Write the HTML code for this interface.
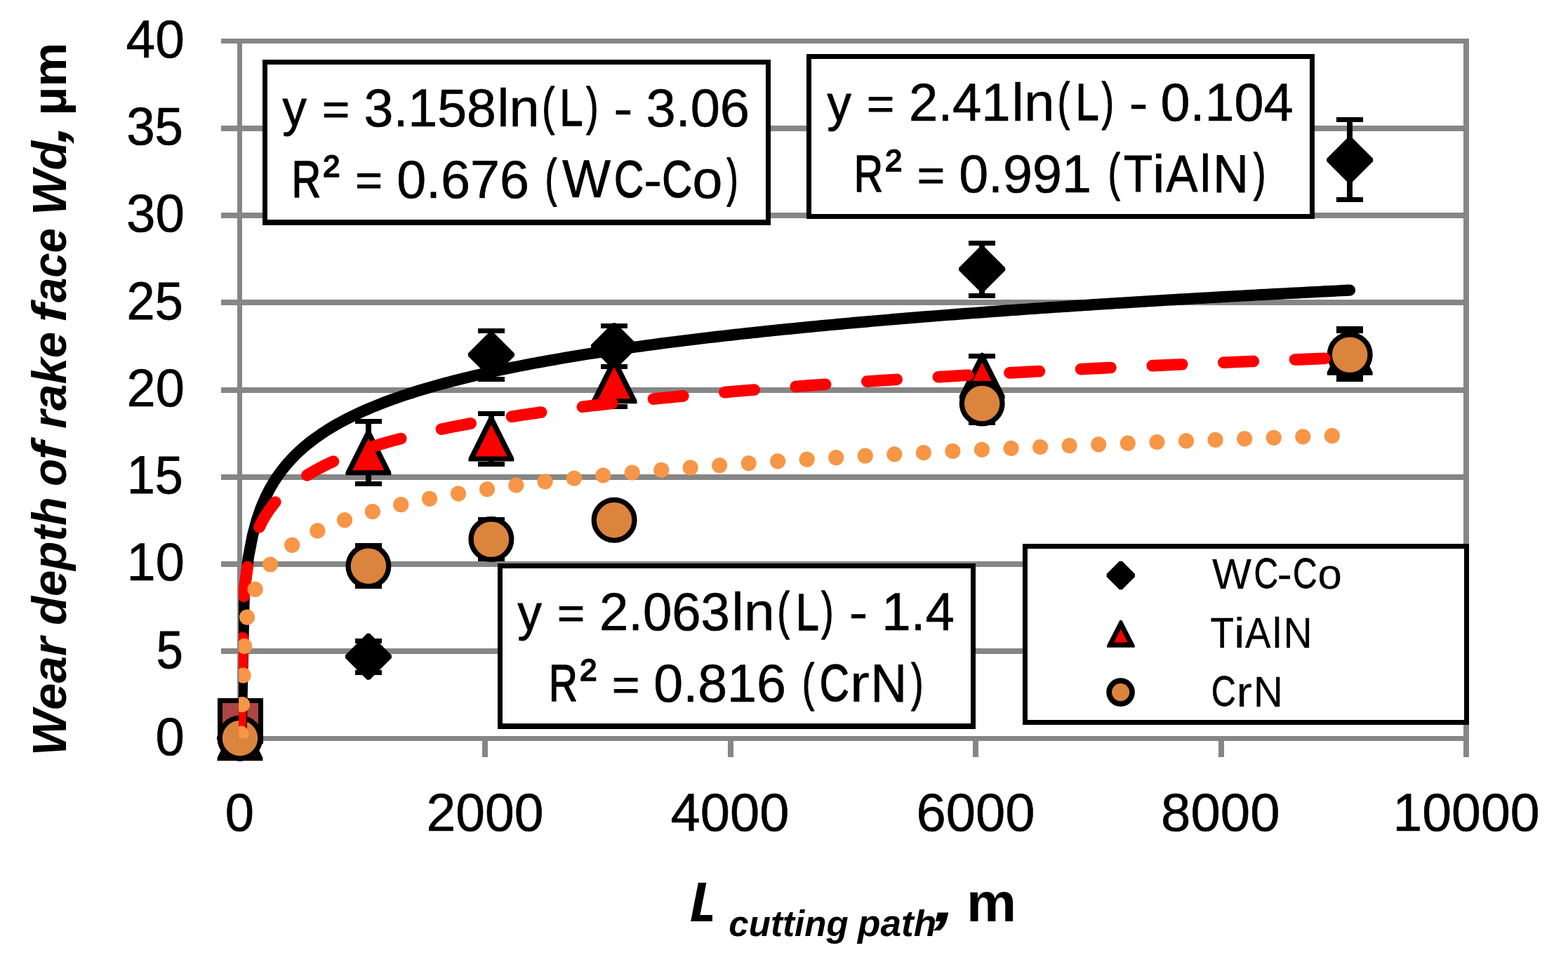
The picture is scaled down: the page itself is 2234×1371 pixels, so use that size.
<!DOCTYPE html>
<html lang="en">
<head>
<meta charset="utf-8">
<title>Wear depth of rake face Wd vs cutting path L</title>
<style>
html,body{margin:0;padding:0;background:#fff;}
body{width:2234px;height:1371px;overflow:hidden;font-family:'Liberation Sans', sans-serif;}
svg{display:block;}
text{font-kerning:none;white-space:pre;}
</style>
</head>
<body>
<svg width="2234" height="1371" viewBox="0 0 2234 1371" role="img" aria-label="Wear depth of rake face versus cutting path length">
<rect width="2234" height="1371" fill="#fff"/>
<g id="grid" fill="#868686" shape-rendering="crispEdges">
<rect x="315" y="55" width="1778" height="7"/>
<rect x="315" y="179" width="1778" height="8"/>
<rect x="315" y="303" width="1778" height="8"/>
<rect x="315" y="427" width="1778" height="8"/>
<rect x="315" y="552" width="1778" height="8"/>
<rect x="315" y="676" width="1778" height="8"/>
<rect x="315" y="800" width="1778" height="8"/>
<rect x="315" y="924" width="1778" height="8"/>
<rect x="315" y="1049" width="1778" height="7"/>
<rect x="338" y="55" width="7" height="1024"/>
<rect x="2085" y="55" width="8" height="1024"/>
<rect x="687" y="1052" width="8" height="27"/>
<rect x="1037" y="1052" width="8" height="27"/>
<rect x="1386" y="1052" width="8" height="27"/>
<rect x="1736" y="1052" width="8" height="27"/>
</g>
<g id="boxes" shape-rendering="crispEdges">
<rect x="374" y="85" width="724" height="236" fill="#000"/><rect x="381" y="92" width="710" height="221" fill="#fff"/>
<rect x="1149" y="77" width="724" height="235" fill="#000"/><rect x="1156" y="84" width="710" height="221" fill="#fff"/>
<rect x="709" y="803" width="681" height="236" fill="#000"/><rect x="716" y="810" width="667" height="221" fill="#fff"/>
<rect x="1457" y="775" width="636" height="258" fill="#000"/><rect x="1464" y="782" width="622" height="244" fill="#fff"/>
</g>
<g id="series">
<path d="M340.0 1019.0L344.0 1019.0L375.0 1050.0L375.0 1054.0L344.0 1085.0L340.0 1085.0L309.0 1054.0L309.0 1050.0Z" fill="#000"/>
<g stroke="#000" fill="none" shape-rendering="crispEdges"><path d="M505.9 913.6H543.9M505.9 958.0H543.9" stroke-width="7.0"/><path d="M524.9 913.6V958.0" stroke-width="8.0"/></g>
<path d="M522.9 902.8L526.9 902.8L557.9 933.8L557.9 937.8L526.9 968.8L522.9 968.8L491.9 937.8L491.9 933.8Z" fill="#000"/>
<g stroke="#000" fill="none" shape-rendering="crispEdges"><path d="M680.9 471.5H718.9M680.9 540.4H718.9" stroke-width="7.0"/><path d="M699.9 471.5V540.4" stroke-width="8.0"/></g>
<path d="M697.9 472.6L701.9 472.6L732.9 503.6L732.9 507.6L701.9 538.6L697.9 538.6L666.9 507.6L666.9 503.6Z" fill="#000"/>
<g stroke="#000" fill="none" shape-rendering="crispEdges"><path d="M856.1 464.6H894.1M856.1 522.5H894.1" stroke-width="7.0"/><path d="M875.1 464.6V522.5" stroke-width="8.0"/></g>
<path d="M873.1 460.3L877.1 460.3L908.1 491.3L908.1 495.3L877.1 526.3L873.1 526.3L842.1 495.3L842.1 491.3Z" fill="#000"/>
<g stroke="#000" fill="none" shape-rendering="crispEdges"><path d="M1380.2 346.6H1418.2M1380.2 421.8H1418.2" stroke-width="7.0"/><path d="M1399.2 346.6V421.8" stroke-width="8.0"/></g>
<path d="M1397.2 350.4L1401.2 350.4L1432.2 381.4L1432.2 385.4L1401.2 416.4L1397.2 416.4L1366.2 385.4L1366.2 381.4Z" fill="#000"/>
<g stroke="#000" fill="none" shape-rendering="crispEdges"><path d="M1904.2 170.4H1942.2M1904.2 284.2H1942.2" stroke-width="7.0"/><path d="M1923.2 170.4V284.2" stroke-width="8.0"/></g>
<path d="M1921.2 195.0L1925.2 195.0L1956.2 226.0L1956.2 230.0L1925.2 261.0L1921.2 261.0L1890.2 230.0L1890.2 226.0Z" fill="#000"/>
<rect x="313.4" y="998.7" width="58.0" height="58.0" fill="#AA4643" stroke="#000" stroke-width="7.0" shape-rendering="crispEdges"/>
<path d="M340.2 1018.4L343.8 1018.4L374.4 1079.7L374.4 1084.2L309.6 1084.2L309.6 1079.7Z" fill="#000"/><path d="M342.0 1031.9L364.7 1077.2L319.3 1077.2Z" fill="#f00"/>
<g stroke="#000" fill="none" shape-rendering="crispEdges"><path d="M505.9 600.7H543.9M505.9 689.5H543.9" stroke-width="7.0"/><path d="M524.9 600.7V689.5" stroke-width="8.0"/></g>
<path d="M523.1 611.4L526.6 611.4L557.3 672.7L557.3 677.2L492.5 677.2L492.5 672.7Z" fill="#000"/><path d="M524.9 624.9L547.6 670.2L502.2 670.2Z" fill="#f00"/>
<g stroke="#000" fill="none" shape-rendering="crispEdges"><path d="M680.9 589.0H718.9M680.9 661.4H718.9" stroke-width="7.0"/><path d="M699.9 589.0V661.4" stroke-width="8.0"/></g>
<path d="M698.1 591.6L701.6 591.6L732.3 652.9L732.3 657.4L667.5 657.4L667.5 652.9Z" fill="#000"/><path d="M699.9 605.1L722.6 650.4L677.2 650.4Z" fill="#f00"/>
<g stroke="#000" fill="none" shape-rendering="crispEdges"><path d="M856.1 506.8H894.1M856.1 579.5H894.1" stroke-width="7.0"/><path d="M875.1 506.8V579.5" stroke-width="8.0"/></g>
<path d="M873.4 509.4L876.9 509.4L907.5 570.7L907.5 575.2L842.7 575.2L842.7 570.7Z" fill="#000"/><path d="M875.1 522.9L897.8 568.2L852.4 568.2Z" fill="#f00"/>
<g stroke="#000" fill="none" shape-rendering="crispEdges"><path d="M1380.2 507.6H1418.2M1380.2 564.0H1418.2" stroke-width="7.0"/><path d="M1399.2 507.6V564.0" stroke-width="8.0"/></g>
<path d="M1397.5 502.8L1401.0 502.8L1431.6 564.1L1431.6 568.6L1366.8 568.6L1366.8 564.1Z" fill="#000"/><path d="M1399.2 516.3L1421.9 561.6L1376.5 561.6Z" fill="#f00"/>
<g stroke="#000" fill="none" shape-rendering="crispEdges"><path d="M1904.2 468.6H1942.2M1904.2 536.6H1942.2" stroke-width="7.0"/><path d="M1923.2 468.6V536.6" stroke-width="8.0"/></g>
<path d="M1921.5 469.0L1925.0 469.0L1955.6 530.3L1955.6 534.8L1890.8 534.8L1890.8 530.3Z" fill="#000"/><path d="M1923.2 482.5L1945.9 527.8L1900.5 527.8Z" fill="#f00"/>
<circle cx="342.0" cy="1052.0" r="28.85" fill="#DB843D" stroke="#000" stroke-width="7.3"/>
<g stroke="#000" fill="none" shape-rendering="crispEdges"><path d="M505.9 777.6H543.9M505.9 835.4H543.9" stroke-width="7.0"/><path d="M524.9 777.6V835.4" stroke-width="8.0"/></g>
<circle cx="524.9" cy="806.7" r="28.85" fill="#DB843D" stroke="#000" stroke-width="7.3"/>
<g stroke="#000" fill="none" shape-rendering="crispEdges"><path d="M680.9 740.4H718.9M680.9 796.8H718.9" stroke-width="7.0"/><path d="M699.9 740.4V796.8" stroke-width="8.0"/></g>
<circle cx="699.9" cy="768.6" r="28.85" fill="#DB843D" stroke="#000" stroke-width="7.3"/>
<circle cx="875.1" cy="741.2" r="28.85" fill="#DB843D" stroke="#000" stroke-width="7.3"/>
<g stroke="#000" fill="none" shape-rendering="crispEdges"><path d="M1380.2 546.8H1418.2M1380.2 602.4H1418.2" stroke-width="7.0"/><path d="M1399.2 546.8V602.4" stroke-width="8.0"/></g>
<circle cx="1399.2" cy="575.0" r="28.85" fill="#DB843D" stroke="#000" stroke-width="7.3"/>
<g stroke="#000" fill="none" shape-rendering="crispEdges"><path d="M1904.2 471.4H1942.2M1904.2 540.3H1942.2" stroke-width="7.0"/><path d="M1923.2 471.4V540.3" stroke-width="8.0"/></g>
<circle cx="1923.2" cy="505.6" r="28.85" fill="#DB843D" stroke="#000" stroke-width="7.3"/>
</g>
<clipPath id="plot"><rect x="340.1" y="55" width="1752.5" height="997.0"/></clipPath>
<g id="trend" clip-path="url(#plot)" fill="none" stroke-linejoin="round" stroke-linecap="round">
<path d="M341.67 1128.54L347.76 847.75L353.84 794.46L359.92 763.01L366.00 740.62L372.08 723.22L378.17 708.99L384.25 696.94L390.33 686.50L396.41 677.29L402.49 669.05L408.58 661.59L414.66 654.78L420.74 648.51L426.82 642.71L432.90 637.30L438.99 632.25L445.07 627.50L451.15 623.02L457.23 618.78L463.31 614.76L469.40 610.94L475.48 607.30L481.56 603.81L487.64 600.48L493.72 597.28L499.81 594.20L505.89 591.24L511.97 588.39L518.05 585.64L524.13 582.98L530.22 580.41L536.30 577.92L542.38 575.51L548.46 573.17L554.54 570.90L560.63 568.69L566.71 566.54L572.79 564.45L578.87 562.41L584.95 560.43L591.04 558.49L597.12 556.60L603.20 554.75L609.28 552.95L615.36 551.19L621.45 549.46L627.53 547.78L633.61 546.13L639.69 544.51L645.77 542.93L651.86 541.37L657.94 539.85L664.02 538.36L670.10 536.89L676.18 535.45L682.27 534.04L688.35 532.65L694.43 531.28L700.51 529.94L706.59 528.62L712.68 527.33L718.76 526.05L724.84 524.80L730.92 523.56L737.00 522.35L743.08 521.15L749.17 519.97L755.25 518.81L761.33 517.66L767.41 516.53L773.49 515.42L779.58 514.32L785.66 513.24L791.74 512.17L797.82 511.12L803.90 510.08L809.99 509.06L816.07 508.04L822.15 507.04L828.23 506.06L834.31 505.08L840.40 504.12L846.48 503.17L852.56 502.23L858.64 501.30L864.72 500.38L870.81 499.48L876.89 498.58L882.97 497.69L889.05 496.82L895.13 495.95L901.22 495.09L907.30 494.25L913.38 493.41L919.46 492.58L925.54 491.75L931.63 490.94L937.71 490.14L943.79 489.34L949.87 488.55L955.95 487.77L962.04 487.00L968.12 486.23L974.20 485.48L980.28 484.72L986.36 483.98L992.45 483.24L998.53 482.51L1004.61 481.79L1010.69 481.07L1016.77 480.36L1022.86 479.66L1028.94 478.96L1035.02 478.27L1041.10 477.59L1047.18 476.91L1053.27 476.23L1059.35 475.57L1065.43 474.90L1071.51 474.25L1077.59 473.60L1083.68 472.95L1089.76 472.31L1095.84 471.68L1101.92 471.05L1108.00 470.42L1114.09 469.80L1120.17 469.18L1126.25 468.57L1132.33 467.97L1138.41 467.37L1144.50 466.77L1150.58 466.18L1156.66 465.59L1162.74 465.01L1168.82 464.43L1174.90 463.85L1180.99 463.28L1187.07 462.72L1193.15 462.15L1199.23 461.60L1205.31 461.04L1211.40 460.49L1217.48 459.94L1223.56 459.40L1229.64 458.86L1235.72 458.33L1241.81 457.79L1247.89 457.27L1253.97 456.74L1260.05 456.22L1266.13 455.70L1272.22 455.19L1278.30 454.68L1284.38 454.17L1290.46 453.66L1296.54 453.16L1302.63 452.66L1308.71 452.17L1314.79 451.68L1320.87 451.19L1326.95 450.70L1333.04 450.22L1339.12 449.74L1345.20 449.26L1351.28 448.79L1357.36 448.32L1363.45 447.85L1369.53 447.38L1375.61 446.92L1381.69 446.46L1387.77 446.00L1393.86 445.55L1399.94 445.09L1406.02 444.65L1412.10 444.20L1418.18 443.75L1424.27 443.31L1430.35 442.87L1436.43 442.43L1442.51 442.00L1448.59 441.57L1454.68 441.14L1460.76 440.71L1466.84 440.29L1472.92 439.86L1479.00 439.44L1485.09 439.02L1491.17 438.61L1497.25 438.19L1503.33 437.78L1509.41 437.37L1515.50 436.96L1521.58 436.56L1527.66 436.15L1533.74 435.75L1539.82 435.35L1545.91 434.96L1551.99 434.56L1558.07 434.17L1564.15 433.78L1570.23 433.39L1576.32 433.00L1582.40 432.61L1588.48 432.23L1594.56 431.85L1600.64 431.47L1606.72 431.09L1612.81 430.71L1618.89 430.34L1624.97 429.97L1631.05 429.60L1637.13 429.23L1643.22 428.86L1649.30 428.49L1655.38 428.13L1661.46 427.77L1667.54 427.41L1673.63 427.05L1679.71 426.69L1685.79 426.33L1691.87 425.98L1697.95 425.63L1704.04 425.28L1710.12 424.93L1716.20 424.58L1722.28 424.23L1728.36 423.89L1734.45 423.54L1740.53 423.20L1746.61 422.86L1752.69 422.52L1758.77 422.18L1764.86 421.85L1770.94 421.51L1777.02 421.18L1783.10 420.85L1789.18 420.52L1795.27 420.19L1801.35 419.86L1807.43 419.54L1813.51 419.21L1819.59 418.89L1825.68 418.56L1831.76 418.24L1837.84 417.92L1843.92 417.61L1850.00 417.29L1856.09 416.97L1862.17 416.66L1868.25 416.35L1874.33 416.03L1880.41 415.72L1886.50 415.41L1892.58 415.10L1898.66 414.80L1904.74 414.49L1910.82 414.19L1916.91 413.88L1922.99 413.58" stroke="#000" stroke-width="16.2"/>
<path d="M341.67 1055.08L347.76 840.80L353.84 800.13L359.92 776.13L366.00 759.04L372.08 745.77L378.17 734.90L384.25 725.71L390.33 717.75L396.41 710.72L402.49 704.43L408.58 698.73L414.66 693.54L420.74 688.75L426.82 684.32L432.90 680.20L438.99 676.34L445.07 672.72L451.15 669.30L457.23 666.07L463.31 663.00L469.40 660.08L475.48 657.30L481.56 654.64L487.64 652.10L493.72 649.65L499.81 647.31L505.89 645.05L511.97 642.87L518.05 640.77L524.13 638.75L530.22 636.78L536.30 634.89L542.38 633.04L548.46 631.26L554.54 629.52L560.63 627.84L566.71 626.20L572.79 624.60L578.87 623.05L584.95 621.53L591.04 620.05L597.12 618.61L603.20 617.20L609.28 615.83L615.36 614.48L621.45 613.17L627.53 611.88L633.61 610.62L639.69 609.39L645.77 608.18L651.86 606.99L657.94 605.83L664.02 604.69L670.10 603.57L676.18 602.47L682.27 601.39L688.35 600.33L694.43 599.29L700.51 598.27L706.59 597.26L712.68 596.27L718.76 595.30L724.84 594.34L730.92 593.40L737.00 592.47L743.08 591.56L749.17 590.66L755.25 589.77L761.33 588.90L767.41 588.04L773.49 587.19L779.58 586.35L785.66 585.52L791.74 584.71L797.82 583.91L803.90 583.11L809.99 582.33L816.07 581.56L822.15 580.80L828.23 580.04L834.31 579.30L840.40 578.56L846.48 577.84L852.56 577.12L858.64 576.41L864.72 575.71L870.81 575.02L876.89 574.34L882.97 573.66L889.05 572.99L895.13 572.33L901.22 571.67L907.30 571.03L913.38 570.39L919.46 569.75L925.54 569.13L931.63 568.51L937.71 567.89L943.79 567.28L949.87 566.68L955.95 566.09L962.04 565.50L968.12 564.91L974.20 564.33L980.28 563.76L986.36 563.19L992.45 562.63L998.53 562.07L1004.61 561.52L1010.69 560.98L1016.77 560.43L1022.86 559.90L1028.94 559.37L1035.02 558.84L1041.10 558.31L1047.18 557.80L1053.27 557.28L1059.35 556.77L1065.43 556.27L1071.51 555.77L1077.59 555.27L1083.68 554.78L1089.76 554.29L1095.84 553.80L1101.92 553.32L1108.00 552.85L1114.09 552.37L1120.17 551.90L1126.25 551.44L1132.33 550.97L1138.41 550.52L1144.50 550.06L1150.58 549.61L1156.66 549.16L1162.74 548.71L1168.82 548.27L1174.90 547.83L1180.99 547.40L1187.07 546.97L1193.15 546.54L1199.23 546.11L1205.31 545.69L1211.40 545.27L1217.48 544.85L1223.56 544.44L1229.64 544.02L1235.72 543.62L1241.81 543.21L1247.89 542.81L1253.97 542.41L1260.05 542.01L1266.13 541.61L1272.22 541.22L1278.30 540.83L1284.38 540.44L1290.46 540.06L1296.54 539.67L1302.63 539.29L1308.71 538.92L1314.79 538.54L1320.87 538.17L1326.95 537.80L1333.04 537.43L1339.12 537.06L1345.20 536.70L1351.28 536.34L1357.36 535.98L1363.45 535.62L1369.53 535.26L1375.61 534.91L1381.69 534.56L1387.77 534.21L1393.86 533.86L1399.94 533.52L1406.02 533.18L1412.10 532.83L1418.18 532.49L1424.27 532.16L1430.35 531.82L1436.43 531.49L1442.51 531.16L1448.59 530.83L1454.68 530.50L1460.76 530.17L1466.84 529.85L1472.92 529.53L1479.00 529.20L1485.09 528.88L1491.17 528.57L1497.25 528.25L1503.33 527.94L1509.41 527.62L1515.50 527.31L1521.58 527.00L1527.66 526.70L1533.74 526.39L1539.82 526.08L1545.91 525.78L1551.99 525.48L1558.07 525.18L1564.15 524.88L1570.23 524.58L1576.32 524.29L1582.40 523.99L1588.48 523.70L1594.56 523.41L1600.64 523.12L1606.72 522.83L1612.81 522.54L1618.89 522.26L1624.97 521.97L1631.05 521.69L1637.13 521.41L1643.22 521.13L1649.30 520.85L1655.38 520.57L1661.46 520.29L1667.54 520.02L1673.63 519.75L1679.71 519.47L1685.79 519.20L1691.87 518.93L1697.95 518.66L1704.04 518.39L1710.12 518.13L1716.20 517.86L1722.28 517.60L1728.36 517.33L1734.45 517.07L1740.53 516.81L1746.61 516.55L1752.69 516.29L1758.77 516.03L1764.86 515.78L1770.94 515.52L1777.02 515.27L1783.10 515.02L1789.18 514.76L1795.27 514.51L1801.35 514.26L1807.43 514.01L1813.51 513.77L1819.59 513.52L1825.68 513.27L1831.76 513.03L1837.84 512.78L1843.92 512.54L1850.00 512.30L1856.09 512.06L1862.17 511.82L1868.25 511.58L1874.33 511.34L1880.41 511.10L1886.50 510.87L1892.58 510.63L1898.66 510.40L1904.74 510.16L1910.82 509.93L1916.91 509.70L1922.99 509.47" stroke="#f00" stroke-width="16.67" stroke-dasharray="42.5 59.26" stroke-dashoffset="-1.7"/>
<path d="M341.67 1087.29L349.58 890.74L357.49 855.76L365.39 835.16L373.30 820.51L381.21 809.13L389.11 799.82L397.02 791.94L404.93 785.12L412.83 779.09L420.74 773.70L428.65 768.83L436.55 764.38L444.46 760.28L452.37 756.49L460.27 752.96L468.18 749.65L476.09 746.55L483.99 743.62L491.90 740.85L499.81 738.23L507.71 735.73L515.62 733.35L523.53 731.07L531.43 728.89L539.34 726.80L547.25 724.79L555.15 722.86L563.06 720.99L570.97 719.20L578.87 717.46L586.78 715.78L594.68 714.15L602.59 712.58L610.50 711.05L618.40 709.56L626.31 708.12L634.22 706.71L642.12 705.35L650.03 704.02L657.94 702.72L665.84 701.46L673.75 700.22L681.66 699.01L689.56 697.84L697.47 696.69L705.38 695.56L713.28 694.46L721.19 693.38L729.10 692.32L737.00 691.29L744.91 690.27L752.82 689.28L760.72 688.30L768.63 687.34L776.54 686.40L784.44 685.48L792.35 684.57L800.26 683.68L808.16 682.80L816.07 681.94L823.98 681.10L831.88 680.26L839.79 679.44L847.69 678.64L855.60 677.84L863.51 677.06L871.41 676.29L879.32 675.53L887.23 674.78L895.13 674.04L903.04 673.32L910.95 672.60L918.85 671.89L926.76 671.20L934.67 670.51L942.57 669.83L950.48 669.16L958.39 668.50L966.29 667.84L974.20 667.20L982.11 666.56L990.01 665.93L997.92 665.31L1005.83 664.70L1013.73 664.09L1021.64 663.49L1029.55 662.90L1037.45 662.31L1045.36 661.74L1053.27 661.16L1061.17 660.60L1069.08 660.04L1076.99 659.48L1084.89 658.93L1092.80 658.39L1100.70 657.86L1108.61 657.32L1116.52 656.80L1124.42 656.28L1132.33 655.76L1140.24 655.25L1148.14 654.75L1156.05 654.25L1163.96 653.75L1171.86 653.26L1179.77 652.78L1187.68 652.30L1195.58 651.82L1203.49 651.35L1211.40 650.88L1219.30 650.41L1227.21 649.95L1235.12 649.50L1243.02 649.05L1250.93 648.60L1258.84 648.16L1266.74 647.72L1274.65 647.28L1282.56 646.85L1290.46 646.42L1298.37 645.99L1306.28 645.57L1314.18 645.15L1322.09 644.74L1330.00 644.33L1337.90 643.92L1345.81 643.51L1353.71 643.11L1361.62 642.71L1369.53 642.32L1377.43 641.92L1385.34 641.53L1393.25 641.15L1401.15 640.76L1409.06 640.38L1416.97 640.00L1424.87 639.63L1432.78 639.25L1440.69 638.88L1448.59 638.52L1456.50 638.15L1464.41 637.79L1472.31 637.43L1480.22 637.07L1488.13 636.72L1496.03 636.37L1503.94 636.02L1511.85 635.67L1519.75 635.32L1527.66 634.98L1535.57 634.64L1543.47 634.30L1551.38 633.97L1559.29 633.63L1567.19 633.30L1575.10 632.97L1583.01 632.64L1590.91 632.32L1598.82 631.99L1606.72 631.67L1614.63 631.35L1622.54 631.04L1630.44 630.72L1638.35 630.41L1646.26 630.10L1654.16 629.79L1662.07 629.48L1669.98 629.17L1677.88 628.87L1685.79 628.56L1693.70 628.26L1701.60 627.97L1709.51 627.67L1717.42 627.37L1725.32 627.08L1733.23 626.79L1741.14 626.50L1749.04 626.21L1756.95 625.92L1764.86 625.63L1772.76 625.35L1780.67 625.07L1788.58 624.79L1796.48 624.51L1804.39 624.23L1812.30 623.95L1820.20 623.68L1828.11 623.41L1836.02 623.13L1843.92 622.86L1851.83 622.59L1859.73 622.33L1867.64 622.06L1875.55 621.80L1883.45 621.53L1891.36 621.27L1899.27 621.01L1907.17 620.75L1915.08 620.49L1922.99 620.23" stroke="#F79646" stroke-width="22.2" stroke-dasharray="0.01 41.6"/>
</g>
<g id="legend-markers">
<path d="M1594.8 799.8L1598.8 799.8L1617.0 818.0L1617.0 822.0L1598.8 840.2L1594.8 840.2L1576.6 822.0L1576.6 818.0Z" fill="#000"/>
<path d="M1595.4 883.9L1598.4 883.9L1616.7 919.7L1616.7 922.7L1577.1 922.7L1577.1 919.7Z" fill="#000"/><path d="M1596.9 896.8L1606.7 915.6L1587.1 915.6Z" fill="#f00"/>
<circle cx="1596.6" cy="986.6" r="16.45" fill="#DB843D" stroke="#000" stroke-width="7.7"/>
</g>
<g id="ylabels">
<text transform="matrix(0.7493 0 0 0.7553 179.56 81.93)" style="font-size:100px;font-family:'Liberation Sans', sans-serif;stroke:#000;stroke-width:0.83px;stroke-linejoin:round;" xml:space="preserve">40 </text>
<text transform="matrix(0.7261 0 0 0.7537 180.15 206.12)" style="font-size:100px;font-family:'Liberation Sans', sans-serif;stroke:#000;stroke-width:0.98px;stroke-linejoin:round;" xml:space="preserve">35 </text>
<text transform="matrix(0.7448 0 0 0.7550 180.04 330.42)" style="font-size:100px;font-family:'Liberation Sans', sans-serif;stroke:#000;stroke-width:0.86px;stroke-linejoin:round;" xml:space="preserve">30 </text>
<text transform="matrix(0.7218 0 0 0.7534 180.60 454.61)" style="font-size:100px;font-family:'Liberation Sans', sans-serif;stroke:#000;stroke-width:1.01px;stroke-linejoin:round;" xml:space="preserve">25 </text>
<text transform="matrix(0.7407 0 0 0.7547 180.47 578.91)" style="font-size:100px;font-family:'Liberation Sans', sans-serif;stroke:#000;stroke-width:0.88px;stroke-linejoin:round;" xml:space="preserve">20 </text>
<text transform="matrix(0.7210 0 0 0.7534 180.69 703.11)" style="font-size:100px;font-family:'Liberation Sans', sans-serif;stroke:#000;stroke-width:1.01px;stroke-linejoin:round;" xml:space="preserve">15 </text>
<text transform="matrix(0.7404 0 0 0.7547 180.50 827.41)" style="font-size:100px;font-family:'Liberation Sans', sans-serif;stroke:#000;stroke-width:0.89px;stroke-linejoin:round;" xml:space="preserve">10 </text>
<text transform="matrix(0.6830 0 0 0.7506 222.70 951.51)" style="font-size:100px;font-family:'Liberation Sans', sans-serif;stroke:#000;stroke-width:1.28px;stroke-linejoin:round;" xml:space="preserve">5 </text>
<text transform="matrix(0.7439 0 0 0.7549 221.55 1075.91)" style="font-size:100px;font-family:'Liberation Sans', sans-serif;stroke:#000;stroke-width:0.86px;stroke-linejoin:round;" xml:space="preserve">0 </text>
</g><g id="xlabels">
<text transform="matrix(0.7416 0 0 0.7548 320.76 1184.41)" style="font-size:100px;font-family:'Liberation Sans', sans-serif;stroke:#000;stroke-width:0.88px;stroke-linejoin:round;" xml:space="preserve">0 </text>
<text transform="matrix(0.7506 0 0 0.7554 607.56 1184.43)" style="font-size:100px;font-family:'Liberation Sans', sans-serif;stroke:#000;stroke-width:0.82px;stroke-linejoin:round;" xml:space="preserve">2000 </text>
<text transform="matrix(0.7595 0 0 0.7559 955.62 1184.45)" style="font-size:100px;font-family:'Liberation Sans', sans-serif;stroke:#000;stroke-width:0.77px;stroke-linejoin:round;" xml:space="preserve">4000 </text>
<text transform="matrix(0.7599 0 0 0.7559 1305.54 1184.45)" style="font-size:100px;font-family:'Liberation Sans', sans-serif;stroke:#000;stroke-width:0.77px;stroke-linejoin:round;" xml:space="preserve">6000 </text>
<text transform="matrix(0.7620 0 0 0.7561 1654.09 1184.46)" style="font-size:100px;font-family:'Liberation Sans', sans-serif;stroke:#000;stroke-width:0.75px;stroke-linejoin:round;" xml:space="preserve">8000 </text>
<text transform="matrix(0.7530 0 0 0.7555 1984.38 1184.43)" style="font-size:100px;font-family:'Liberation Sans', sans-serif;stroke:#000;stroke-width:0.81px;stroke-linejoin:round;" xml:space="preserve">10000 </text>
</g>
<g id="eq1">
<g><text transform="matrix(0.6859 0 0 0.7261 402.50 179.34)" style="font-size:100px;font-family:'Liberation Sans', sans-serif;stroke:#000;stroke-width:1.26px;stroke-linejoin:round;" xml:space="preserve">y </text><text transform="matrix(0.6709 0 0 0.6277 458.88 177.66)" style="font-size:100px;font-family:'Liberation Sans', sans-serif;stroke:#000;stroke-width:1.60px;stroke-linejoin:round;" xml:space="preserve">= </text><text transform="matrix(0.7529 0 0 0.7555 518.59 179.73)" style="font-size:100px;font-family:'Liberation Sans', sans-serif;stroke:#000;stroke-width:0.81px;stroke-linejoin:round;" xml:space="preserve">3.158</text><text transform="matrix(0.7759 0 0 0.7569 708.29 179.79)" style="font-size:100px;font-family:'Liberation Sans', sans-serif;stroke:#000;stroke-width:0.67px;stroke-linejoin:round;" xml:space="preserve">ln</text><text transform="matrix(0.5406 0 0 0.7492 772.21 177.48)" style="font-size:100px;font-family:'Liberation Sans', sans-serif;stroke:#000;stroke-width:1.97px;stroke-linejoin:round;" xml:space="preserve">(</text><text transform="matrix(0.5979 0 0 0.7432 797.31 179.29)" style="font-size:100px;font-family:'Liberation Sans', sans-serif;stroke:#000;stroke-width:1.99px;stroke-linejoin:round;" xml:space="preserve">L</text><text transform="matrix(0.5141 0 0 0.7469 835.24 177.42)" style="font-size:100px;font-family:'Liberation Sans', sans-serif;stroke:#000;stroke-width:2.26px;stroke-linejoin:round;" xml:space="preserve">) </text><text transform="matrix(0.8193 0 0 0.7209 874.30 178.82)" style="font-size:100px;font-family:'Liberation Sans', sans-serif;stroke:#000;stroke-width:0.60px;stroke-linejoin:round;" xml:space="preserve">- </text><text transform="matrix(0.7584 0 0 0.7559 920.46 179.75)" style="font-size:100px;font-family:'Liberation Sans', sans-serif;stroke:#000;stroke-width:0.78px;stroke-linejoin:round;" xml:space="preserve">3.06</text></g>
<g><text transform="matrix(0.5786 0 0 0.7412 415.41 281.02)" style="font-size:100px;font-family:'Liberation Sans', sans-serif;stroke:#000;stroke-width:2.19px;stroke-linejoin:round;" xml:space="preserve">R</text><text transform="matrix(0.7021 0 0 0.7273 460.40 272.05)" style="font-size:100px;font-family:'Liberation Sans', sans-serif;stroke:#000;stroke-width:2.00px;stroke-linejoin:round;" xml:space="preserve">² </text><text transform="matrix(0.6609 0 0 0.6277 506.32 279.46)" style="font-size:100px;font-family:'Liberation Sans', sans-serif;stroke:#000;stroke-width:1.60px;stroke-linejoin:round;" xml:space="preserve">= </text><text transform="matrix(0.7541 0 0 0.7556 565.19 281.54)" style="font-size:100px;font-family:'Liberation Sans', sans-serif;stroke:#000;stroke-width:0.80px;stroke-linejoin:round;" xml:space="preserve">0.676 </text><text transform="matrix(0.4963 0 0 0.7452 776.67 279.18)" style="font-size:100px;font-family:'Liberation Sans', sans-serif;stroke:#000;stroke-width:2.48px;stroke-linejoin:round;" xml:space="preserve">(</text><text transform="matrix(0.7319 0 0 0.7541 800.96 281.48)" style="font-size:100px;font-family:'Liberation Sans', sans-serif;stroke:#000;stroke-width:0.94px;stroke-linejoin:round;" xml:space="preserve">W</text><text transform="matrix(0.5835 0 0 0.7417 874.91 281.04)" style="font-size:100px;font-family:'Liberation Sans', sans-serif;stroke:#000;stroke-width:2.14px;stroke-linejoin:round;" xml:space="preserve">C</text><text transform="matrix(0.7916 0 0 0.7209 916.91 280.62)" style="font-size:100px;font-family:'Liberation Sans', sans-serif;stroke:#000;stroke-width:0.60px;stroke-linejoin:round;" xml:space="preserve">-</text><text transform="matrix(0.5936 0 0 0.7428 943.24 281.08)" style="font-size:100px;font-family:'Liberation Sans', sans-serif;stroke:#000;stroke-width:2.04px;stroke-linejoin:round;" xml:space="preserve">C</text><text transform="matrix(0.7715 0 0 0.7567 986.43 281.58)" style="font-size:100px;font-family:'Liberation Sans', sans-serif;stroke:#000;stroke-width:0.70px;stroke-linejoin:round;" xml:space="preserve">o</text><text transform="matrix(0.4653 0 0 0.7420 1035.86 279.09)" style="font-size:100px;font-family:'Liberation Sans', sans-serif;stroke:#000;stroke-width:2.89px;stroke-linejoin:round;" xml:space="preserve">)</text></g>
</g><g id="eq2">
<g><text transform="matrix(0.6859 0 0 0.7261 1178.60 171.54)" style="font-size:100px;font-family:'Liberation Sans', sans-serif;stroke:#000;stroke-width:1.26px;stroke-linejoin:round;" xml:space="preserve">y </text><text transform="matrix(0.6709 0 0 0.6277 1234.98 169.86)" style="font-size:100px;font-family:'Liberation Sans', sans-serif;stroke:#000;stroke-width:1.60px;stroke-linejoin:round;" xml:space="preserve">= </text><text transform="matrix(0.7427 0 0 0.7548 1295.11 171.91)" style="font-size:100px;font-family:'Liberation Sans', sans-serif;stroke:#000;stroke-width:0.87px;stroke-linejoin:round;" xml:space="preserve">2.41</text><text transform="matrix(0.7809 0 0 0.7572 1441.55 172.00)" style="font-size:100px;font-family:'Liberation Sans', sans-serif;stroke:#000;stroke-width:0.65px;stroke-linejoin:round;" xml:space="preserve">ln</text><text transform="matrix(0.5229 0 0 0.7477 1506.65 169.64)" style="font-size:100px;font-family:'Liberation Sans', sans-serif;stroke:#000;stroke-width:2.16px;stroke-linejoin:round;" xml:space="preserve">(</text><text transform="matrix(0.5979 0 0 0.7432 1532.41 171.49)" style="font-size:100px;font-family:'Liberation Sans', sans-serif;stroke:#000;stroke-width:1.99px;stroke-linejoin:round;" xml:space="preserve">L</text><text transform="matrix(0.5141 0 0 0.7469 1569.64 169.62)" style="font-size:100px;font-family:'Liberation Sans', sans-serif;stroke:#000;stroke-width:2.26px;stroke-linejoin:round;" xml:space="preserve">) </text><text transform="matrix(0.8153 0 0 0.7209 1608.41 171.02)" style="font-size:100px;font-family:'Liberation Sans', sans-serif;stroke:#000;stroke-width:0.60px;stroke-linejoin:round;" xml:space="preserve">- </text><text transform="matrix(0.7553 0 0 0.7557 1653.48 171.94)" style="font-size:100px;font-family:'Liberation Sans', sans-serif;stroke:#000;stroke-width:0.79px;stroke-linejoin:round;" xml:space="preserve">0.104</text></g>
<g><text transform="matrix(0.5731 0 0 0.7407 1216.77 273.10)" style="font-size:100px;font-family:'Liberation Sans', sans-serif;stroke:#000;stroke-width:2.24px;stroke-linejoin:round;" xml:space="preserve">R</text><text transform="matrix(0.6989 0 0 0.7273 1261.60 264.15)" style="font-size:100px;font-family:'Liberation Sans', sans-serif;stroke:#000;stroke-width:2.00px;stroke-linejoin:round;" xml:space="preserve">² </text><text transform="matrix(0.6749 0 0 0.6277 1306.87 271.56)" style="font-size:100px;font-family:'Liberation Sans', sans-serif;stroke:#000;stroke-width:1.60px;stroke-linejoin:round;" xml:space="preserve">= </text><text transform="matrix(0.7541 0 0 0.7556 1366.19 273.64)" style="font-size:100px;font-family:'Liberation Sans', sans-serif;stroke:#000;stroke-width:0.80px;stroke-linejoin:round;" xml:space="preserve">0.991 </text><text transform="matrix(0.5141 0 0 0.7469 1578.63 271.32)" style="font-size:100px;font-family:'Liberation Sans', sans-serif;stroke:#000;stroke-width:2.26px;stroke-linejoin:round;" xml:space="preserve">(</text><text transform="matrix(0.6726 0 0 0.7498 1600.99 273.43)" style="font-size:100px;font-family:'Liberation Sans', sans-serif;stroke:#000;stroke-width:1.35px;stroke-linejoin:round;" xml:space="preserve">T</text><text transform="matrix(0.8071 0 0 0.7588 1641.72 273.75)" style="font-size:100px;font-family:'Liberation Sans', sans-serif;stroke:#000;stroke-width:0.50px;stroke-linejoin:round;" xml:space="preserve">i</text><text transform="matrix(0.6726 0 0 0.7498 1661.53 273.43)" style="font-size:100px;font-family:'Liberation Sans', sans-serif;stroke:#000;stroke-width:1.35px;stroke-linejoin:round;" xml:space="preserve">A</text><text transform="matrix(0.6607 0 0 0.7488 1710.07 273.40)" style="font-size:100px;font-family:'Liberation Sans', sans-serif;stroke:#000;stroke-width:1.44px;stroke-linejoin:round;" xml:space="preserve">l</text><text transform="matrix(0.7005 0 0 0.7519 1728.37 273.51)" style="font-size:100px;font-family:'Liberation Sans', sans-serif;stroke:#000;stroke-width:1.15px;stroke-linejoin:round;" xml:space="preserve">N</text><text transform="matrix(0.5229 0 0 0.7477 1786.12 271.34)" style="font-size:100px;font-family:'Liberation Sans', sans-serif;stroke:#000;stroke-width:2.16px;stroke-linejoin:round;" xml:space="preserve">)</text></g>
</g><g id="eq3">
<g><text transform="matrix(0.6859 0 0 0.7261 737.60 897.64)" style="font-size:100px;font-family:'Liberation Sans', sans-serif;stroke:#000;stroke-width:1.26px;stroke-linejoin:round;" xml:space="preserve">y </text><text transform="matrix(0.6709 0 0 0.6277 793.98 895.96)" style="font-size:100px;font-family:'Liberation Sans', sans-serif;stroke:#000;stroke-width:1.60px;stroke-linejoin:round;" xml:space="preserve">= </text><text transform="matrix(0.7430 0 0 0.7549 854.01 898.01)" style="font-size:100px;font-family:'Liberation Sans', sans-serif;stroke:#000;stroke-width:0.87px;stroke-linejoin:round;" xml:space="preserve">2.063</text><text transform="matrix(0.7924 0 0 0.7579 1042.25 898.12)" style="font-size:100px;font-family:'Liberation Sans', sans-serif;stroke:#000;stroke-width:0.58px;stroke-linejoin:round;" xml:space="preserve">ln</text><text transform="matrix(0.5229 0 0 0.7477 1107.45 895.74)" style="font-size:100px;font-family:'Liberation Sans', sans-serif;stroke:#000;stroke-width:2.16px;stroke-linejoin:round;" xml:space="preserve">(</text><text transform="matrix(0.5905 0 0 0.7424 1133.89 897.57)" style="font-size:100px;font-family:'Liberation Sans', sans-serif;stroke:#000;stroke-width:2.07px;stroke-linejoin:round;" xml:space="preserve">L</text><text transform="matrix(0.5141 0 0 0.7469 1170.34 895.72)" style="font-size:100px;font-family:'Liberation Sans', sans-serif;stroke:#000;stroke-width:2.26px;stroke-linejoin:round;" xml:space="preserve">) </text><text transform="matrix(0.8113 0 0 0.7209 1209.43 897.12)" style="font-size:100px;font-family:'Liberation Sans', sans-serif;stroke:#000;stroke-width:0.60px;stroke-linejoin:round;" xml:space="preserve">- </text><text transform="matrix(0.7446 0 0 0.7550 1256.31 898.02)" style="font-size:100px;font-family:'Liberation Sans', sans-serif;stroke:#000;stroke-width:0.86px;stroke-linejoin:round;" xml:space="preserve">1.4</text></g>
<g><text transform="matrix(0.5659 0 0 0.7399 781.94 999.38)" style="font-size:100px;font-family:'Liberation Sans', sans-serif;stroke:#000;stroke-width:2.32px;stroke-linejoin:round;" xml:space="preserve">R</text><text transform="matrix(0.7053 0 0 0.7273 826.49 990.45)" style="font-size:100px;font-family:'Liberation Sans', sans-serif;stroke:#000;stroke-width:2.00px;stroke-linejoin:round;" xml:space="preserve">² </text><text transform="matrix(0.6749 0 0 0.6277 871.97 997.86)" style="font-size:100px;font-family:'Liberation Sans', sans-serif;stroke:#000;stroke-width:1.60px;stroke-linejoin:round;" xml:space="preserve">= </text><text transform="matrix(0.7537 0 0 0.7556 931.29 999.94)" style="font-size:100px;font-family:'Liberation Sans', sans-serif;stroke:#000;stroke-width:0.80px;stroke-linejoin:round;" xml:space="preserve">0.816 </text><text transform="matrix(0.5141 0 0 0.7469 1142.93 997.62)" style="font-size:100px;font-family:'Liberation Sans', sans-serif;stroke:#000;stroke-width:2.26px;stroke-linejoin:round;" xml:space="preserve">(</text><text transform="matrix(0.5818 0 0 0.7416 1167.82 999.44)" style="font-size:100px;font-family:'Liberation Sans', sans-serif;stroke:#000;stroke-width:2.15px;stroke-linejoin:round;" xml:space="preserve">C</text><text transform="matrix(0.8498 0 0 0.7609 1210.86 1000.13)" style="font-size:100px;font-family:'Liberation Sans', sans-serif;stroke:#000;stroke-width:0.30px;stroke-linejoin:round;" xml:space="preserve">r</text><text transform="matrix(0.7120 0 0 0.7527 1240.45 999.84)" style="font-size:100px;font-family:'Liberation Sans', sans-serif;stroke:#000;stroke-width:1.07px;stroke-linejoin:round;" xml:space="preserve">N</text><text transform="matrix(0.5141 0 0 0.7469 1298.34 997.62)" style="font-size:100px;font-family:'Liberation Sans', sans-serif;stroke:#000;stroke-width:2.26px;stroke-linejoin:round;" xml:space="preserve">)</text></g>
</g>
<g id="legend">
<g><text transform="matrix(0.5935 0 0 0.6139 1727.11 838.77)" style="font-size:100px;font-family:'Liberation Sans', sans-serif;stroke:#000;stroke-width:0.35px;stroke-linejoin:round;" xml:space="preserve">W</text><text transform="matrix(0.4794 0 0 0.6056 1786.42 838.47)" style="font-size:100px;font-family:'Liberation Sans', sans-serif;stroke:#000;stroke-width:1.33px;stroke-linejoin:round;" xml:space="preserve">C</text><text transform="matrix(0.6293 0 0 0.5912 1819.66 837.88)" style="font-size:100px;font-family:'Liberation Sans', sans-serif;stroke:#000;stroke-width:0.60px;stroke-linejoin:round;" xml:space="preserve">-</text><text transform="matrix(0.4794 0 0 0.6056 1842.02 838.47)" style="font-size:100px;font-family:'Liberation Sans', sans-serif;stroke:#000;stroke-width:1.33px;stroke-linejoin:round;" xml:space="preserve">C</text><text transform="matrix(0.6173 0 0 0.6144 1877.62 838.78)" style="font-size:100px;font-family:'Liberation Sans', sans-serif;stroke:#000;stroke-width:0.30px;stroke-linejoin:round;" xml:space="preserve">o </text></g>
<g><text transform="matrix(0.5508 0 0 0.6112 1724.40 922.87)" style="font-size:100px;font-family:'Liberation Sans', sans-serif;stroke:#000;stroke-width:0.67px;stroke-linejoin:round;" xml:space="preserve">T</text><text transform="matrix(0.7026 0 0 0.6144 1758.02 922.98)" style="font-size:100px;font-family:'Liberation Sans', sans-serif;stroke:#000;stroke-width:0.30px;stroke-linejoin:round;" xml:space="preserve">i</text><text transform="matrix(0.5456 0 0 0.6108 1773.91 922.86)" style="font-size:100px;font-family:'Liberation Sans', sans-serif;stroke:#000;stroke-width:0.71px;stroke-linejoin:round;" xml:space="preserve">A</text><text transform="matrix(0.5840 0 0 0.6134 1812.93 922.95)" style="font-size:100px;font-family:'Liberation Sans', sans-serif;stroke:#000;stroke-width:0.42px;stroke-linejoin:round;" xml:space="preserve">l</text><text transform="matrix(0.5695 0 0 0.6124 1828.50 922.91)" style="font-size:100px;font-family:'Liberation Sans', sans-serif;stroke:#000;stroke-width:0.52px;stroke-linejoin:round;" xml:space="preserve">N </text></g>
<g><text transform="matrix(0.4861 0 0 0.6062 1725.78 1006.49)" style="font-size:100px;font-family:'Liberation Sans', sans-serif;stroke:#000;stroke-width:1.26px;stroke-linejoin:round;" xml:space="preserve">C</text><text transform="matrix(0.6719 0 0 0.6144 1761.62 1006.78)" style="font-size:100px;font-family:'Liberation Sans', sans-serif;stroke:#000;stroke-width:0.30px;stroke-linejoin:round;" xml:space="preserve">r</text><text transform="matrix(0.5791 0 0 0.6130 1785.91 1006.74)" style="font-size:100px;font-family:'Liberation Sans', sans-serif;stroke:#000;stroke-width:0.45px;stroke-linejoin:round;" xml:space="preserve">N </text></g>
</g>
<g id="ytitle"><text transform="matrix(0 -0.6919 0.6900 0 94.00 1077.17)" style="font-size:100px;font-family:'Liberation Sans', sans-serif;font-weight:bold;font-style:italic;" xml:space="preserve">Wear </text><text transform="matrix(0 -0.6728 0.6900 0 94.00 891.12)" style="font-size:100px;font-family:'Liberation Sans', sans-serif;font-weight:bold;font-style:italic;" xml:space="preserve">depth </text><text transform="matrix(0 -0.6418 0.6900 0 94.00 693.03)" style="font-size:100px;font-family:'Liberation Sans', sans-serif;font-weight:bold;font-style:italic;" xml:space="preserve">o</text><text transform="matrix(0 -0.7842 0.6900 0 94.00 655.38)" style="font-size:100px;font-family:'Liberation Sans', sans-serif;font-weight:bold;font-style:italic;" xml:space="preserve">f </text><text transform="matrix(0 -0.6720 0.6900 0 94.00 611.12)" style="font-size:100px;font-family:'Liberation Sans', sans-serif;font-weight:bold;font-style:italic;" xml:space="preserve">rake </text><text transform="matrix(0 -0.7789 0.6900 0 94.00 459.36)" style="font-size:100px;font-family:'Liberation Sans', sans-serif;font-weight:bold;font-style:italic;" xml:space="preserve">f</text><text transform="matrix(0 -0.6354 0.6900 0 94.00 431.11)" style="font-size:100px;font-family:'Liberation Sans', sans-serif;font-weight:bold;font-style:italic;" xml:space="preserve">ace </text><text transform="matrix(0 -0.6829 0.6900 0 94.00 307.11)" style="font-size:100px;font-family:'Liberation Sans', sans-serif;font-weight:bold;font-style:italic;" xml:space="preserve">Wd</text><text transform="matrix(0 -0.9305 0.7272 0 93.71 204.58)" style="font-size:100px;font-family:'Liberation Sans', sans-serif;font-weight:bold;font-style:italic;" xml:space="preserve">, </text><text transform="matrix(0 -0.7115 0.6900 0 94.00 164.74)" style="font-size:100px;font-family:'Liberation Sans', sans-serif;font-weight:bold;" xml:space="preserve">µm</text></g>
<g id="xtitle"><clipPath id="lclip"><rect x="-20" y="-90" width="60.15" height="120"/></clipPath><text transform="matrix(0.8029 0 0 0.8029 982.66 1313.1)" clip-path="url(#lclip)" style="font-size:100px;font-family:'Liberation Sans', sans-serif;font-weight:bold;font-style:italic;" xml:space="preserve">L </text><text transform="matrix(0.5114 0 0 0.5132 1038.37 1334.00)" style="font-size:100px;font-family:'Liberation Sans', sans-serif;font-weight:bold;font-style:italic;" xml:space="preserve">cutting </text><text transform="matrix(0.5316 0 0 0.5132 1222.06 1334.00)" style="font-size:100px;font-family:'Liberation Sans', sans-serif;font-weight:bold;font-style:italic;" xml:space="preserve">path</text><text transform="matrix(1.1034 0 0 0.8380 1330.34 1313.17)" style="font-size:100px;font-family:'Liberation Sans', sans-serif;font-weight:bold;font-style:italic;" xml:space="preserve">, </text><text transform="matrix(0.8000 0 0 0.7868 1377.07 1313.10)" style="font-size:100px;font-family:'Liberation Sans', sans-serif;font-weight:bold;" xml:space="preserve">m</text></g>
</svg>
</body>
</html>
